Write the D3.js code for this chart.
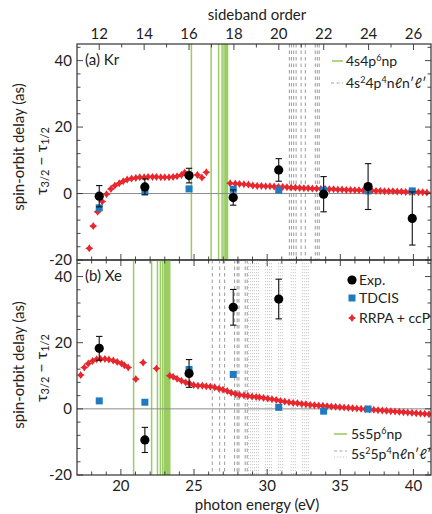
<!DOCTYPE html>
<html><head><meta charset="utf-8">
<script src="https://cdn.jsdelivr.net/npm/d3@7"></script>
<style>
body{margin:0;background:#fff;}
svg{display:block;font-family:Lato,"Open Sans",sans-serif;}
</style></head><body>
<svg id="c" width="432" height="514"></svg>
<script>
// ---------------- data ----------------
const expE = [18.52, 21.64, 24.66, 27.68, 30.79, 33.86, 36.9, 39.92];
const sidebandTicks = [12,14,16,18,20,22,24,26];
const energyTicks = [20,25,30,35,40];
const yTicks = [-20,0,20,40];

// Kr
const krExp = [-0.8, 2.0, 5.4, -1.2, 7.1, -0.2, 2.1, -7.5];
const krExpErr = [3.2, 2.4, 2.2, 2.3, 3.4, 5.3, 6.9, 8.0];
const krTdcis = [-4.3, 0.6, 1.4, 1.3, 1.0, 1.0, 0.8, 0.8];
const krRrpaE = [17.84,18.11,18.41,18.73,19.02,19.32,19.59,19.89,20.16,20.43,20.73,21.02,21.29,21.59,21.86,22.16,22.43,22.73,23.0,23.29,23.57,23.84,24.14,24.36,24.66,25.23,25.54,25.84,
  27.47,27.82,28.11,28.41,28.72,29.02,29.32,
  29.61,29.9,30.19,30.48,30.77,31.06,31.35,31.64,31.93,32.22,32.51,32.8,33.09,33.38,33.67,33.96,34.25,34.54,34.83,35.12,35.41,35.7,35.99,36.28,36.57,36.86,37.15,37.44,37.73,38.02,38.31,38.6,38.89,39.18,39.47,39.76,40.05,40.34,40.63,40.92];
const krRrpa = [-16.5,-9.8,-5.5,-2.4,-0.2,1.4,2.4,3.1,3.7,4.2,4.5,4.7,4.9,4.9,5.0,5.0,5.0,4.9,4.9,4.9,5.0,5.2,5.6,6.3,5.8,5.6,4.8,6.4,
  3.1,3.0,2.9,2.8,2.7,2.4,2.3,
  2.3,2.2,2.2,2.1,2.0,2.0,1.9,1.8,1.8,1.7,1.6,1.6,1.5,1.5,1.4,1.4,1.3,1.3,1.2,1.2,1.1,1.1,1.0,1.0,0.9,0.9,0.9,0.8,0.8,0.7,0.7,0.7,0.6,0.6,0.5,0.5,0.5,0.4,0.4,0.3];
const krResNp = [24.82,26.17,26.68,26.92,27.05,27.14,27.2,27.25,27.29];
const krResDouble = [31.52,31.66,31.81,31.98,32.32,32.61,33.29,33.43,33.56];

// Xe
const xeExpE = [18.52, 21.64, 24.66, 27.68, 30.79];
const xeExp = [18.3, -9.4, 10.7, 30.7, 33.2];
const xeExpErr = [3.6, 3.8, 4.2, 5.4, 6.0];
const xeTdcisE = [18.52, 21.64, 24.66, 27.68, 30.79, 33.86, 36.9];
const xeTdcis = [2.4, 2.0, 11.9, 10.4, 0.45, -0.7, -0.05];
const xeRrpaE = [17.25,17.5,17.77,18.07,18.34,18.61,18.91,19.18,19.48,19.75,20.05,20.23,20.5,21.02,21.52,22.43,
  23.34,23.57,23.84,24.14,24.43,24.71,24.98,25.27,25.57,25.84,26.11,26.41,26.71,26.98,27.27,27.54,27.84,28.11,28.41,28.68,28.97,29.25,29.47,
  29.75,30.04,30.33,30.62,30.91,31.2,31.49,31.78,32.07,32.36,32.65,32.94,33.23,33.52,33.81,34.1,34.39,34.68,34.97,35.26,35.55,35.84,36.13,36.42,36.71,37.0,37.29,37.58,37.87,38.16,38.45,38.74,39.03,39.32,39.61,39.9,40.19,40.48,40.77,41.06];
const xeRrpa = [10.2,12.5,13.7,14.5,15.0,15.1,15.1,14.9,14.6,14.2,13.7,13.2,12.5,9.0,14.0,12.2,
  10.0,9.7,9.1,8.5,8.0,7.6,7.2,7.0,7.0,6.8,6.7,6.5,6.1,5.8,5.4,4.9,4.5,4.2,4.1,3.9,3.7,3.6,3.5,
  3.3,3.1,2.9,2.7,2.4,2.2,2.0,1.8,1.7,1.5,1.4,1.2,1.1,1.0,0.9,0.8,0.7,0.6,0.5,0.4,0.3,0.2,0.1,0.0,-0.1,-0.2,-0.3,-0.4,-0.5,-0.6,-0.7,-0.8,-0.9,-1.0,-1.1,-1.2,-1.3,-1.4,-1.5,-1.6];
const xeResNp = [20.87,22.1,22.5,22.7,22.85,22.97,23.06,23.13,23.19,23.24,23.28,23.31,23.34];
const xeResDouble = [26.25,26.75,27.09,27.77,27.95,28.07,28.5,28.64];
const xeResDotted = [28.72,28.86,29.0,29.13,29.27,29.41,29.88,30.02,30.16,30.29,30.77,30.9,31.04,31.65,31.79,31.93,32.41,32.54,32.68,32.82];

const hw = 1.5343, hwOff = 0.11; // sideband order -> photon energy

// ---------------- layout ----------------
const svg = d3.select("#c");
const L = 77, R = 431;
const x = d3.scaleLinear().domain([17, 41.2]).range([L, R]);
const orderScale = d3.scaleLinear()
  .domain([(17 - hwOff)/hw, (41.2 - hwOff)/hw]).range([L, R]);

const GREEN = "#9acd64", GREY = "#8a8a8a", RED = "#e8262d", BLUE = "#1f7bc0", INK = "#222";
const starPath = "M0,-4L1.6,-1.6L4,0L1.6,1.6L0,4L-1.6,1.6L-4,0L-1.6,-1.6Z";

function panel(id, top, bottom, cfg){
  const y = d3.scaleLinear().domain([-20, 45]).range([bottom, top]);
  const g = svg.append("g");
  g.append("clipPath").attr("id","clip"+id).append("rect")
    .attr("x",L).attr("y",top).attr("width",R-L).attr("height",bottom-top);
  const p = g.append("g").attr("clip-path",`url(#clip${id})`);

  // resonance lines
  p.selectAll(".dot").data(cfg.dotted||[]).join("line")
    .attr("x1",d=>x(d)).attr("x2",d=>x(d)).attr("y1",top).attr("y2",bottom)
    .attr("stroke","#c4c4c4").attr("stroke-width",0.9).attr("stroke-dasharray","1.2,1.8");
  p.selectAll(".dash").data(cfg.dashed).join("line")
    .attr("x1",d=>x(d)).attr("x2",d=>x(d)).attr("y1",top).attr("y2",bottom)
    .attr("stroke","#a5a5a5").attr("stroke-width",1.1).attr("stroke-dasharray","3.5,3");
  p.selectAll(".np").data(cfg.np).join("line")
    .attr("x1",d=>x(d)).attr("x2",d=>x(d)).attr("y1",top).attr("y2",bottom)
    .attr("stroke",GREEN).attr("stroke-width",1.5);

  // zero line
  p.append("line").attr("x1",L).attr("x2",R).attr("y1",y(0)).attr("y2",y(0))
    .attr("stroke","#8c8c8c").attr("stroke-width",1);

  // RRPA
  p.selectAll(".rr").data(cfg.rrE).join("path")
    .attr("d",starPath).attr("fill",RED)
    .attr("transform",(d,i)=>`translate(${x(d)},${y(cfg.rr[i])})`);
  // TDCIS
  p.selectAll(".td").data(cfg.tdE).join("rect")
    .attr("x",d=>x(d)-3.5).attr("y",(d,i)=>y(cfg.td[i])-3.5)
    .attr("width",7).attr("height",7).attr("fill",BLUE);
  // Exp
  const eg = p.selectAll(".ex").data(cfg.exE).join("g");
  eg.append("line").attr("x1",d=>x(d)).attr("x2",d=>x(d))
    .attr("y1",(d,i)=>y(cfg.ex[i]+cfg.err[i])).attr("y2",(d,i)=>y(cfg.ex[i]-cfg.err[i]))
    .attr("stroke","#111").attr("stroke-width",1.1);
  [1,-1].forEach(s=>{
    eg.append("line").attr("x1",d=>x(d)-3.2).attr("x2",d=>x(d)+3.2)
      .attr("y1",(d,i)=>y(cfg.ex[i]+s*cfg.err[i])).attr("y2",(d,i)=>y(cfg.ex[i]+s*cfg.err[i]))
      .attr("stroke","#111").attr("stroke-width",1.1);
  });
  eg.append("circle").attr("cx",d=>x(d)).attr("cy",(d,i)=>y(cfg.ex[i])).attr("r",4.6).attr("fill","#000");

  // ticks (inward)
  const tk = g.append("g").attr("stroke","#333").attr("stroke-width",0.9);
  const yMinor = d3.range(-20, 45, 4);
  yMinor.forEach(v=>{
    const len = (v % 20 === 0) ? 6 : 3.5;
    tk.append("line").attr("x1",L).attr("x2",L+len).attr("y1",y(v)).attr("y2",y(v));
    tk.append("line").attr("x1",R).attr("x2",R-len).attr("y1",y(v)).attr("y2",y(v));
  });
  d3.range(18, 42).forEach(v=>{
    const len = (v % 5 === 0) ? 6 : 3.5;
    tk.append("line").attr("x1",x(v)).attr("x2",x(v)).attr("y1",bottom).attr("y2",bottom-len);
    if(!cfg.topOrders) tk.append("line").attr("x1",x(v)).attr("x2",x(v)).attr("y1",top).attr("y2",top+len);
  });
  if(cfg.topOrders){
    d3.range(12, 27).forEach(n=>{
      const len = (n % 2 === 0) ? 6 : 3.5;
      tk.append("line").attr("x1",orderScale(n)).attr("x2",orderScale(n)).attr("y1",top).attr("y2",top+len);
    });
  }

  // frame
  g.append("rect").attr("x",L).attr("y",top).attr("width",R-L).attr("height",bottom-top)
    .attr("fill","none").attr("stroke","#333").attr("stroke-width",1.2);

  // y tick labels
  g.selectAll(".yl").data(yTicks).join("text")
    .attr("x",72).attr("y",d=>y(d)).attr("dy","0.36em").attr("text-anchor","end")
    .attr("font-size",15).attr("fill",INK).text(d=>d);

  // panel label
  g.append("text").attr("x",85).attr("y",top+21).attr("font-size",15).attr("fill",INK).text(cfg.label);

  // y-axis title
  g.append("text").attr("transform",`translate(18,${cfg.t1y}) rotate(-90)`)
    .attr("text-anchor","middle").attr("dominant-baseline","central")
    .attr("font-size",15).attr("fill",INK).text("spin-orbit delay (as)");
  const t2 = g.append("text").attr("transform",`translate(40,${cfg.t2y}) rotate(-90)`)
    .attr("text-anchor","middle").attr("dominant-baseline","central")
    .attr("font-size",16).attr("fill",INK);
  t2.append("tspan").text("τ");
  t2.append("tspan").attr("font-size",11).attr("dy",4).text("3/2");
  t2.append("tspan").attr("dy",-4).text(" − τ");
  t2.append("tspan").attr("font-size",11).attr("dy",4).text("1/2");
  return {g, y};
}

panel("a", 44, 260, {
  label:"(a) Kr", np:krResNp, dashed:krResDouble,
  rrE:krRrpaE, rr:krRrpa, tdE:expE, td:krTdcis, exE:expE, ex:krExp, err:krExpErr,
  topOrders:true, t1y:147, t2y:161
});
panel("b", 260, 475, {
  label:"(b) Xe", np:xeResNp, dashed:xeResDouble, dotted:xeResDotted,
  rrE:xeRrpaE, rr:xeRrpa, tdE:xeTdcisE, td:xeTdcis, exE:xeExpE, ex:xeExp, err:xeExpErr,
  topOrders:false, t1y:365, t2y:368
});

// top axis labels
svg.selectAll(".tl").data(sidebandTicks).join("text")
  .attr("x",d=>orderScale(d)).attr("y",34).attr("dy","0.36em").attr("text-anchor","middle")
  .attr("font-size",15).attr("fill",INK).text(d=>d);
svg.append("text").attr("x",257).attr("y",15).attr("dy","0.36em").attr("text-anchor","middle")
  .attr("font-size",15).attr("fill",INK).text("sideband order");

// bottom axis labels
svg.selectAll(".bl").data(energyTicks).join("text")
  .attr("x",d=>x(d)).attr("y",486).attr("dy","0.36em").attr("text-anchor","middle")
  .attr("font-size",15).attr("fill",INK).text(d=>d);
svg.append("text").attr("x",257).attr("y",505).attr("dy","0.36em").attr("text-anchor","middle")
  .attr("font-size",15).attr("fill",INK).text("photon energy (eV)");

// legends
function sup(t, parts){
  let last = false;
  parts.forEach(([s,isSup])=>{
    const ts = t.append("tspan").text(s);
    if(isSup) ts.attr("font-size",9).attr("dy", last ? 0 : -5);
    else ts.attr("dy", last ? 5 : 0);
    last = !!isSup;
  });
}
const lg = svg.append("g").attr("font-size",14).attr("fill",INK);
// panel a
lg.append("line").attr("x1",332).attr("x2",343).attr("y1",61).attr("y2",61).attr("stroke",GREEN).attr("stroke-width",1.6);
sup(lg.append("text").attr("x",346).attr("y",65.5), [["4s4p",0],["6",1],["np",0]]);
lg.append("line").attr("x1",331).attr("x2",343).attr("y1",83).attr("y2",83).attr("stroke","#a5a5a5").attr("stroke-width",1.1).attr("stroke-dasharray","3,2.5");
sup(lg.append("text").attr("x",346).attr("y",87.5), [["4s",0],["2",1],["4p",0],["4",1],["nℓn′ℓ′",0]]);
// panel b series
lg.append("circle").attr("cx",352).attr("cy",280).attr("r",4.6).attr("fill","#000");
lg.append("text").attr("x",359).attr("y",284.5).text("Exp.");
lg.append("rect").attr("x",348.5).attr("y",294.5).attr("width",7).attr("height",7).attr("fill",BLUE);
lg.append("text").attr("x",359).attr("y",303).text("TDCIS");
lg.append("path").attr("d",starPath).attr("fill",RED).attr("transform","translate(352,318)");
lg.append("text").attr("x",359).attr("y",322.5).text("RRPA + ccP");
// panel b resonances
lg.append("line").attr("x1",334).attr("x2",347).attr("y1",434).attr("y2",434).attr("stroke",GREEN).attr("stroke-width",1.6);
sup(lg.append("text").attr("x",351).attr("y",438.5), [["5s5p",0],["6",1],["np",0]]);
lg.append("line").attr("x1",334).attr("x2",347).attr("y1",451).attr("y2",451).attr("stroke","#a5a5a5").attr("stroke-width",1.1).attr("stroke-dasharray","3,2.5");
lg.append("line").attr("x1",334).attr("x2",347).attr("y1",457).attr("y2",457).attr("stroke","#c4c4c4").attr("stroke-width",1).attr("stroke-dasharray","1.2,1.8");
sup(lg.append("text").attr("x",351).attr("y",459), [["5s",0],["2",1],["5p",0],["4",1],["nℓn′ℓ′",0]]);
</script>
</body></html>
